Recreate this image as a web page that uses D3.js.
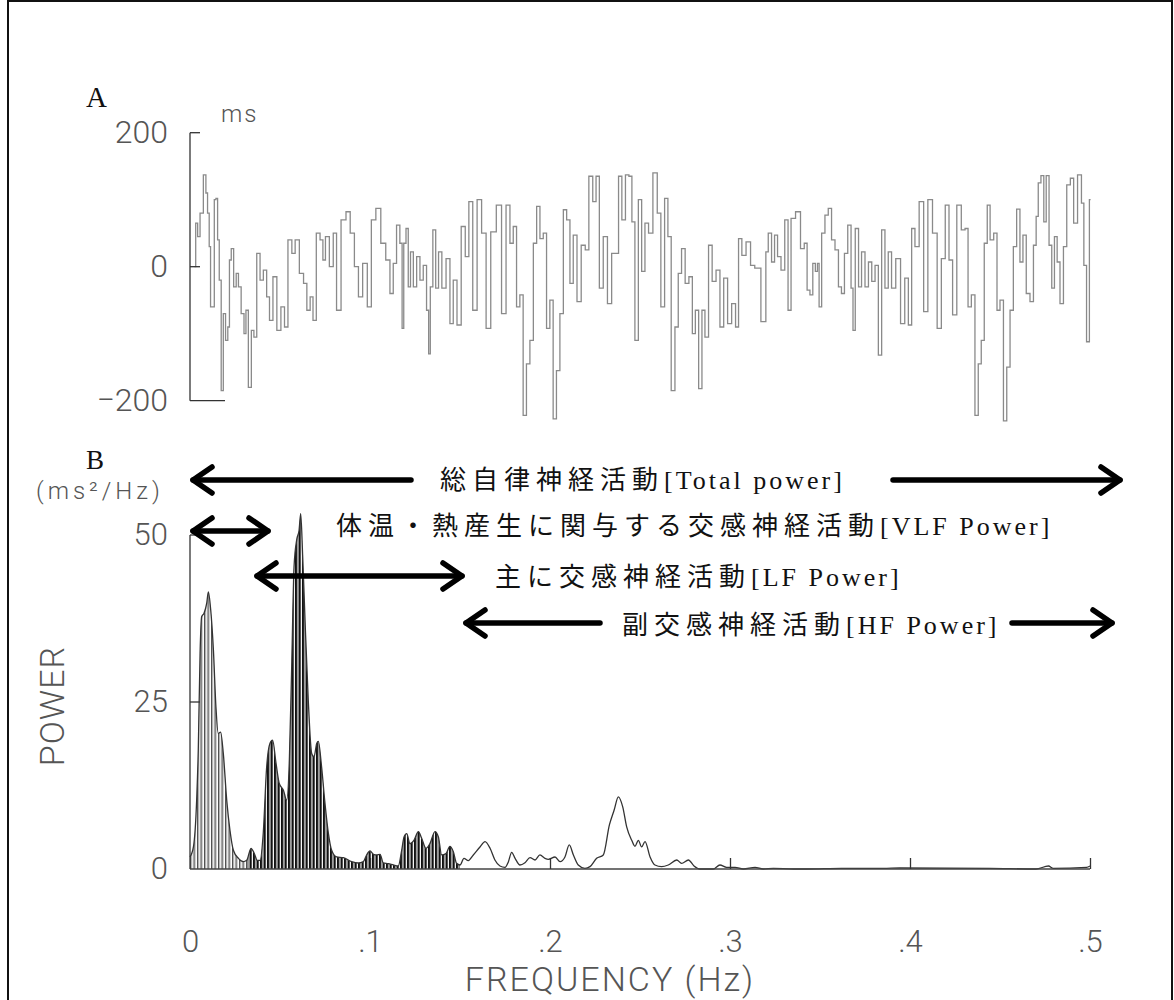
<!DOCTYPE html>
<html>
<head>
<meta charset="utf-8">
<script src="https://cdn.jsdelivr.net/npm/d3@7"></script>
<style>
  body { margin: 0; background: #fff; }
  .plot { font-family: Roboto, "DejaVu Sans", sans-serif; font-weight: 300; fill: #555; }
  .jp { font-family: "Liberation Serif", "Noto Sans CJK JP", serif; fill: #111; font-size: 26px; }
  .panel { font-family: "Liberation Serif", serif; fill: #111; }
</style>
</head>
<body>
<svg id="chart" width="1174" height="1000"></svg>
<script>
// A: RR interval deviation (ms) against time (s)
const rrTime = [0.5,1.3,1.8,2.9,4.0,4.6,5.1,5.7,6.0,6.8,7.4,7.9,8.5,9.0,9.8,10.4,11.3,11.9,12.4,13.1,14.0,14.8,15.5,16.6,17.4,17.9,19.0,19.9,20.7,21.8,22.9,24.0,25.1,25.9,27.4,28.5,30.1,30.9,32.4,33.5,34.6,36.3,37.4,38.5,39.6,40.4,41.8,42.9,43.7,44.6,46.3,47.2,48.5,50.2,51.8,53.0,54.6,55.7,57.4,58.8,60.1,61.8,
  63.4,65.1,66.2,67.3,68.4,69.5,69.9,70.6,71.4,72.1,72.9,74.0,75.1,76.2,77.3,78.4,78.7,79.5,80.4,81.4,82.3,83.6,85.1,86.2,87.3,88.7,90.1,91.4,92.5,94.0,95.4,97.0,98.4,100.1,102.1,103.6,105.1,106.2,107.3,108.4,109.5,110.6,111.7,112.9,114.0,115.1,116.2,117.3,118.4,119.5,120.6,121.7,122.9,124.0,125.1,126.2,127.3,128.7,130.1,131.4,132.5,134.0,134.7,136.2,137.3,139.0,140.1,141.4,142.3,143.6,144.7,145.9,146.7,147.9,149.0,150.1,151.2,152.5,154.1,155.4,156.5,157.9,158.7,160.1,161.2,162.3,163.4,164.7,165.9,167.0,167.9,169.2,170.1,171.2,172.5,173.6,175.1,176.2,177.6,178.8,180.3,181.4,182.3,183.6,185.1,186.6,187.9,
  190.7,191.2,192.3,193.4,194.3,195.4,196.6,197.9,198.8,199.9,201.8,203.2,204.3,205.1,206.2,207.0,207.9,208.4,209.0,210.1,211.2,212.3,213.4,214.6,215.7,216.6,217.7,218.8,219.9,220.1,221.4,222.3,223.4,224.6,225.7,226.8,227.9,229.0,230.1,231.2,232.3,233.4,235.1,236.6,237.9,239.0,240.1,241.2,242.9,244.2,245.7,247.3,248.8,250.1,251.4,252.6,253.8,255.4,256.8,257.9,258.8,260.1,261.2,262.3,263.2,264.3,265.2,266.2,267.6,268.4,269.6,270.7,271.8,272.9,274.0,275.1,276.2,277.1,278.4,279.6,280.7,281.4,282.1,283.2,284.0,284.8,285.9,286.6,287.7,288.4,289.6,290.7,291.8,293.1,294.0,295.7,296.6,297.3,298.4,299.2];
const rrValue = [0,65,45,80,137,110,80,30,-60,-60,100,102,40,-20,-185,-70,-110,-90,10,27,-30,-10,-30,-70,-100,-65,-180,-95,-105,20,-20,-5,-45,-80,-15,-95,-60,-90,40,20,40,-10,-25,-65,-45,-80,50,40,10,45,0,50,-65,70,82,50,0,-45,5,-60,70,87,
  35,10,-40,5,62,35,-92,35,57,-30,22,-30,15,-20,2,-65,-130,-30,55,-32,22,-32,12,-85,-20,-87,60,15,97,-65,100,50,-92,52,92,-70,92,35,60,-60,-42,-222,-145,-110,35,90,42,50,-92,-50,-227,-155,-70,85,70,-25,47,-52,32,25,135,97,135,-32,45,-55,20,20,135,70,137,135,67,-110,100,-7,65,50,140,80,-60,102,45,-185,-90,-10,27,-25,-15,-100,-65,-182,-65,-105,32,-22,-5,-90,-17,-85,-55,-90,42,17,37,2,-2,
  -82,22,50,7,47,15,-5,70,-65,72,82,27,35,-35,-42,5,-7,5,-60,50,77,87,40,25,-30,-40,20,62,-32,-95,57,-30,22,-30,7,-22,2,-132,55,-32,22,-32,12,-85,-17,-87,57,30,97,-67,100,50,-92,12,92,10,-72,92,55,57,-60,-42,-222,-145,-110,35,92,40,50,-65,-50,-230,-150,-65,30,86,7,47,-40,-52,32,75,125,136,67,136,32,-32,45,7,-55,30,122,132,65,137,95,2,-112,100];
const rrTicks = [-200, 0, 200];

// B: power spectrum (ms^2/Hz) against frequency (Hz)
const freq = [0,0.0019,0.0037,0.0046,0.0056,0.0065,0.0078,0.0093,0.0102,0.0115,0.0130,0.0144,0.0157,0.0170,0.0185,0.0204,0.0222,0.0241,0.0269,0.0296,0.0315,0.0339,0.0356,0.0374,0.0389,0.0407,0.0426,0.0444,0.0459,0.0478,0.0496,0.0519,0.0537,0.0552,0.0565,0.0578,0.0593,0.0606,0.0615,0.0626,0.0639,0.0657,0.0676,0.0689,0.0704,0.0713,0.0731,0.0750,0.0769,0.0787,0.0815,0.0852,0.0898,0.0935,0.0963,0.0981,0.1000,0.1019,0.1037,0.1056,0.1074,0.1102,0.1130,0.1157,0.1176,0.1189,0.1204,0.1222,0.1244,0.1269,0.1287,0.1311,0.1333,0.1361,0.1380,0.1398,0.1422,0.1444,0.1463,0.1481,0.1500,0.1522,0.1546,0.1574,0.1611,0.1639,0.1667,0.1694,0.1722,0.1750,0.1769,0.1787,0.1806,0.1833,0.1861,0.1889,0.1917,0.1944,0.1972,0.1991,0.2028,0.2056,0.2083,0.2107,0.2130,0.2157,0.2194,0.2222,0.2259,0.2296,0.2330,0.2356,0.2380,0.2404,0.2426,0.2454,0.2472,0.2491,0.2509,0.2528,0.2556,0.2583,0.2620,0.2657,0.2704,0.2731,0.2769,0.2800,0.2833,0.2907,0.2944,0.2981,0.3028,0.3074,0.3139,0.3185,0.3241,0.3352,0.3426,0.3620,0.3852,0.3944,0.4444,0.4700,0.4769,0.4796,0.4981,0.5000];
const power = [1.8,3.3,10.3,17.8,32.3,37.8,38.3,39.8,41.5,38.8,32.8,24.3,20.3,20.5,17.3,10.3,5.8,2.8,1.6,1.1,1.3,3.1,2.4,1.3,1.3,5.4,15.3,18.8,19.3,15.8,12.8,11.8,10.3,16.3,30.3,45.2,49.3,50.7,53.2,46.8,37.3,25.3,17.3,16.8,18.8,19.1,15.3,9.8,5.3,2.8,1.8,1.7,1.1,0.9,1.1,2.1,2.7,2.2,2.1,2.2,0.9,0.8,0.6,0.45,2.8,4.8,5.3,3.8,4.3,5.6,4.6,3.1,3.8,5.6,4.8,2.1,2.3,3.4,2.6,0.85,0.6,1.6,1.25,2.1,3.3,4.1,3.1,1.35,0.45,0.25,1.1,2.5,1.6,0.6,0.95,1.7,1.35,2.1,1.6,1.45,1.8,1.1,1.8,3.6,2.1,0.6,0.1,0.35,1.6,2.1,6.6,8.8,10.8,9.3,6.3,4.3,3.4,4.3,3.3,4.1,1.8,0.6,0.35,0.6,1.35,0.85,1.35,0.45,0,0,0.6,0.25,0.25,0,0.25,0,0.1,0,0,0.1,0.1,0.15,0.1,0,0.45,0.1,0.25,0.45];
const powerTicks = [0, 25, 50];
const freqTicks = [0, 0.1, 0.2, 0.3, 0.4, 0.5];
const vlfEnd = 0.032, lfEnd = 0.15;

const bandJp = ["総自律神経活動", "体温・熱産生に関与する交感神経活動", "主に交感神経活動", "副交感神経活動"];
const bandEn = ["[Total power]", "[VLF Power]", "[LF Power]", "[HF Power]"];

const svg = d3.select("#chart");
svg.append("rect").attr("width", 1174).attr("height", 1000).attr("fill", "#fff");
svg.append("rect").attr("x", 8).attr("y", 1).attr("width", 1164).attr("height", 1030)
    .attr("fill", "none").attr("stroke", "#111").attr("stroke-width", 2);

// ---------- panel A ----------
const xA = d3.scaleLinear().domain([0, 300]).range([193, 1093]);
const yA = d3.scaleLinear().domain([-200, 200]).range([400.7, 132.7]);

const rr = rrTime.map((t, i) => ({ t, v: rrValue[i] }));
svg.append("path")
    .datum(rr)
    .attr("fill", "none")
    .attr("stroke", "#8a8a8a")
    .attr("stroke-width", 1.3)
    .attr("d", d3.line().x(d => xA(d.t)).y(d => yA(d.v)).curve(d3.curveStep));

const axA = svg.append("g").attr("stroke", "#333").attr("stroke-width", 1.3);
axA.append("line").attr("x1", 190).attr("x2", 190).attr("y1", yA(200)).attr("y2", yA(-200));
axA.append("line").attr("x1", 190).attr("x2", 200).attr("y1", yA(200)).attr("y2", yA(200));
axA.append("line").attr("x1", 190).attr("x2", 200).attr("y1", yA(0)).attr("y2", yA(0));
axA.append("line").attr("x1", 190).attr("x2", 225).attr("y1", yA(-200)).attr("y2", yA(-200));

svg.append("g")
    .attr("transform", "translate(190,0)")
    .call(d3.axisLeft(yA).tickValues(rrTicks).tickSize(0).tickPadding(22).tickFormat(d3.format("d")))
    .call(g => g.select(".domain").remove())
    .selectAll("text").attr("class", "plot").style("font-size", "32px");

svg.append("text").attr("class", "plot").attr("x", 221).attr("y", 122)
    .style("font-size", "24px").style("letter-spacing", "2px").text("ms");
svg.append("text").attr("class", "panel").attr("x", 86).attr("y", 107)
    .style("font-size", "29px").text("A");

// ---------- panel B ----------
const xB = d3.scaleLinear().domain([0, 0.5]).range([190, 1090]);
const yB = d3.scaleLinear().domain([0, 50]).range([869, 535]);
const spec = freq.map((f, i) => ({ f, p: power[i] }));

const defs = svg.append("defs");
const pv = defs.append("pattern").attr("id", "hatchVLF").attr("patternUnits", "userSpaceOnUse")
    .attr("x", 190).attr("width", 3.5).attr("height", 10);
pv.append("rect").attr("width", 2.1).attr("height", 10).attr("fill", "#a8a8a8");
pv.append("rect").attr("width", 0.7).attr("height", 10).attr("fill", "#333");
const pl = defs.append("pattern").attr("id", "hatchLF").attr("patternUnits", "userSpaceOnUse")
    .attr("x", 190).attr("width", 3.5).attr("height", 10);
pl.append("rect").attr("width", 2.3).attr("height", 10).attr("fill", "#111");

defs.append("clipPath").attr("id", "clipVLF").append("rect")
    .attr("x", xB(0)).attr("width", xB(vlfEnd) - xB(0)).attr("y", 0).attr("height", 1000);
defs.append("clipPath").attr("id", "clipLF").append("rect")
    .attr("x", xB(vlfEnd)).attr("width", xB(lfEnd) - xB(vlfEnd)).attr("y", 0).attr("height", 1000);

const area = d3.area().x(d => xB(d.f)).y0(yB(0)).y1(d => yB(d.p)).curve(d3.curveMonotoneX);
svg.append("path").datum(spec).attr("d", area).attr("fill", "url(#hatchVLF)").attr("clip-path", "url(#clipVLF)");
svg.append("path").datum(spec).attr("d", area).attr("fill", "url(#hatchLF)").attr("clip-path", "url(#clipLF)");

svg.append("path").datum(spec)
    .attr("fill", "none").attr("stroke", "#333").attr("stroke-width", 1.3)
    .attr("d", d3.line().x(d => xB(d.f)).y(d => yB(d.p)).curve(d3.curveMonotoneX));

const axB = svg.append("g").attr("stroke", "#333").attr("stroke-width", 1.3);
axB.append("line").attr("x1", 190).attr("x2", 190).attr("y1", yB(50)).attr("y2", yB(0));
axB.append("line").attr("x1", 190).attr("x2", 200).attr("y1", yB(50)).attr("y2", yB(50));
axB.append("line").attr("x1", 190).attr("x2", 200).attr("y1", yB(25)).attr("y2", yB(25));
axB.append("line").attr("x1", xB(0)).attr("x2", xB(0.5)).attr("y1", yB(0)).attr("y2", yB(0)).attr("stroke", "#444").attr("stroke-width", 1.6);

svg.append("g")
    .attr("transform", "translate(190,0)")
    .call(d3.axisLeft(yB).tickValues(powerTicks).tickSize(0).tickPadding(22))
    .call(g => g.select(".domain").remove())
    .selectAll("text").attr("class", "plot").style("font-size", "31px");

svg.append("g")
    .attr("transform", `translate(0,${yB(0)})`)
    .call(d3.axisTop(xB).tickValues(freqTicks.slice(1)).tickSize(11).tickFormat(""))
    .call(g => g.select(".domain").remove())
    .selectAll("line").attr("stroke", "#333").attr("stroke-width", 1.3);

svg.append("g")
    .attr("transform", `translate(0,${yB(0)})`)
    .call(d3.axisBottom(xB).tickValues(freqTicks).tickSize(0).tickPadding(61)
        .tickFormat(d => d === 0 ? "0" : d3.format(".1f")(d).replace(/^0/, "")))
    .call(g => g.select(".domain").remove())
    .selectAll("text").attr("class", "plot").style("font-size", "31px");

svg.append("text").attr("class", "plot").attr("x", 610).attr("y", 991)
    .attr("text-anchor", "middle").style("font-size", "34px").style("letter-spacing", "2px")
    .text("FREQUENCY (Hz)");
svg.append("text").attr("class", "plot")
    .attr("transform", "translate(52,706) rotate(-90)")
    .attr("text-anchor", "middle").attr("dy", "0.35em")
    .style("font-size", "34px").style("letter-spacing", "1px").text("POWER");
svg.append("text").attr("class", "plot").attr("x", 36).attr("y", 499)
    .style("font-size", "24px").style("letter-spacing", "4px").text("(ms²/Hz)");
svg.append("text").attr("class", "panel").attr("x", 86).attr("y", 469)
    .style("font-size", "27px").text("B");

// ---------- band annotations ----------
function arrow(x1, x2, y, heads) {
    const g = svg.append("g").attr("stroke", "#000").attr("stroke-width", 5.5)
        .attr("stroke-linecap", "round").attr("stroke-linejoin", "round").attr("fill", "none");
    g.append("line").attr("x1", x1).attr("x2", x2).attr("y1", y).attr("y2", y);
    if (heads.includes("start")) g.append("path").attr("d", `M${x1 + 19},${y - 13}L${x1},${y}L${x1 + 19},${y + 13}`);
    if (heads.includes("end")) g.append("path").attr("d", `M${x2 - 19},${y - 13}L${x2},${y}L${x2 - 19},${y + 13}`);
}

function bandLabel(i, x, y) {
    const t = svg.append("text").attr("class", "jp").attr("x", x).attr("y", y);
    t.append("tspan").style("letter-spacing", "6px").text(bandJp[i]);
    t.append("tspan").style("letter-spacing", "3px").text(bandEn[i]);
}

arrow(193, 411, 480, ["start"]);
bandLabel(0, 440, 489);
arrow(893, 1120, 480, ["end"]);

arrow(193, 268, 531, ["start", "end"]);
bandLabel(1, 336, 535);

arrow(257, 462, 576, ["start", "end"]);
bandLabel(2, 495, 586);

arrow(466, 600, 623, ["start"]);
bandLabel(3, 622, 634);
arrow(1012, 1112, 623, ["end"]);
</script>
</body>
</html>
